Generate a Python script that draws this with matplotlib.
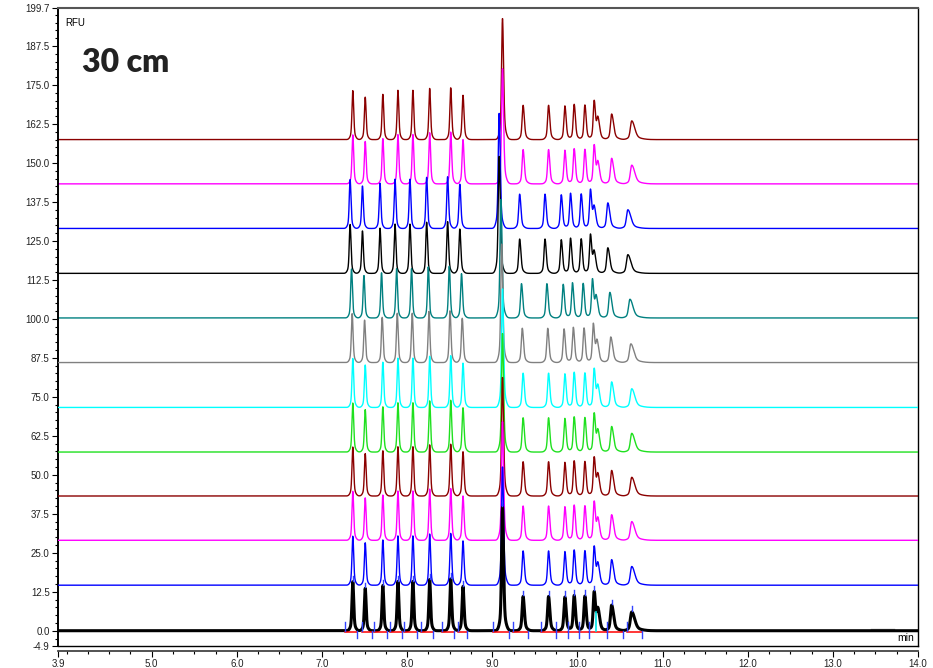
import numpy as np
import matplotlib.pyplot as plt
from matplotlib.patches import Arc

plt.rcParams['font.family'] = ['Liberation Sans', 'DejaVu Sans']

# Peak table shared by all injections (retention time in min, height in RFU)
peak_times = [7.362, 7.508, 7.715, 7.892, 8.068, 8.265, 8.512, 8.656, 9.120,
              9.362, 9.661, 9.853, 9.962, 10.088, 10.197, 10.240, 10.402, 10.638]
peak_heights = [15.7, 13.6, 14.5, 15.8, 15.8, 16.4, 16.6, 14.2, 38.5,
                11.0, 11.0, 10.8, 11.3, 11.1, 12.2, 6.5, 8.2, 6.0]
peak_sigma = [0.0090, 0.0090, 0.0090, 0.0090, 0.0090, 0.0090, 0.0090, 0.0095, 0.0100,
              0.0105, 0.0105, 0.0105, 0.0105, 0.0105, 0.0105, 0.0120, 0.0125, 0.0150]
peak_tail = [1.1, 1.1, 1.1, 1.1, 1.1, 1.1, 1.2, 1.2, 1.2,
             1.3, 1.3, 1.3, 1.3, 1.3, 1.3, 1.6, 1.7, 2.2]

# One trace per injection, bottom to top
offsets = [0.0, 14.6, 29.0, 43.2, 57.3, 71.6, 86.0, 100.3, 114.6, 129.0, 143.3, 157.5]
colors = ['black', '#0000ff', '#ff00ff', '#8b0000', '#1fe01f', '#00ffff',
          '#808080', '#008080', 'black', '#0000ff', '#ff00ff', '#8b0000']
time_scale = [1.0, 1.0, 1.0, 1.0, 1.0, 1.0, 0.999, 0.998, 0.9957, 0.9957, 1.0, 1.0]
main_peak = [39.6, 37.9, 38.0, 38.0, 38.0, 38.0, 38.0, 38.0, 37.5, 36.9, 36.9, 38.8]

# Integration events on the bottom trace
start_marks = [7.267, 7.467, 7.612, 7.796, 7.968, 8.161, 8.415, 8.596, 9.004,
               9.247, 9.573, 9.749, 9.886, 10.015, 10.141, 10.349, 10.580]
end_marks = [7.415, 7.585, 7.761, 7.945, 8.121, 8.309, 8.553, 8.702, 9.200,
             9.415, 9.749, 9.886, 10.015, 10.141, 10.349, 10.541, 10.761]
split_time = 10.224

t = np.arange(3.9, 14.0, 0.001)


def peak_shape(x, t0, h, s, tail):
    z = x - t0
    sig = np.where(z < 0, s, s * tail)
    core = np.exp(-0.5 * (z / sig) ** 2)
    foot = np.exp(-0.5 * (z / (2.6 * sig)) ** 2)
    return h * (0.84 * core + 0.16 * foot)


def trace(k):
    y = np.zeros_like(t)
    for i, t0 in enumerate(peak_times):
        h = main_peak[k] if i == 8 else peak_heights[i]
        y += peak_shape(t, t0 * time_scale[k], h, peak_sigma[i], peak_tail[i])
    return y


fig = plt.figure(figsize=(9.33, 6.68), dpi=100)
ax = fig.add_axes([58 / 933, 22 / 668, 860 / 933, 638 / 668])

for k in range(len(offsets) - 1, -1, -1):
    y = trace(k)
    lw = 2.2 if k == 0 else 1.0
    ax.plot(t, y + offsets[k], color=colors[k], lw=lw, zorder=2 + (12 - k) * 0.1)
    if k == 0:
        bottom = y

# baseline segments and event marks on the bottom trace
for s0, e0 in zip(start_marks, end_marks):
    ax.plot([s0, e0], [-0.35, -0.35], color='red', lw=1.1, zorder=3.5)
for s0 in start_marks:
    ax.plot([s0, s0], [0, 2.8], color='#3344ff', lw=1.0, zorder=4)
for e0 in end_marks:
    ax.plot([e0, e0], [0, -2.4], color='#3344ff', lw=1.0, zorder=4)
for i, t0 in enumerate(peak_times):
    if i == 15:
        continue
    top = np.interp(t0, t, bottom)
    ax.plot([t0, t0], [top + 0.3, top + 1.8], color='#3344ff', lw=1.0, zorder=4)
ax.plot([split_time, split_time], [0, np.interp(split_time, t, bottom)],
        color='#00e5e5', lw=1.2, zorder=4.5)
ax.plot([13.45, 13.72], [0.5, 0.5], color='#999999', lw=1.0, zorder=1)

ax.set_xlim(3.9, 14.0)
ax.set_ylim(-4.9, 199.7)

yt = [-4.9] + list(np.arange(0, 188, 12.5)) + [199.7]
ax.set_yticks(yt)
ax.set_yticklabels(['%.1f' % v for v in yt])
ax.set_yticks(np.arange(-2.5, 199.7, 2.5), minor=True)
xt = [3.9] + list(np.arange(5.0, 14.01, 1.0))
ax.set_xticks(xt)
ax.set_xticklabels(['%.1f' % v for v in xt])
ax.set_xticks(np.arange(4.0, 14.0, 0.25), minor=True)
ax.tick_params(which='major', direction='out', length=4, width=0.8, labelsize=7,
               labelcolor='#222222', pad=2)
ax.tick_params(which='minor', direction='out', length=2.5, width=0.8)

ax.spines['left'].set_linewidth(1.4)
ax.spines['right'].set_linewidth(1.0)
ax.spines['top'].set_color('#555555')
ax.spines['top'].set_linewidth(1.5)
ax.spines['bottom'].set_position(('outward', 3.6))
ax.spines['bottom'].set_color('#444444')
ax.spines['bottom'].set_linewidth(1.3)
# closing line of the frame above the time axis
ax.plot([0, 1], [0, 0], transform=ax.transAxes, color='black', lw=1.0, clip_on=False)

ax.text(0.008, 0.985, 'RFU', transform=ax.transAxes, fontsize=7, va='top', ha='left')
ax.text(0.995, 0.005, 'min', transform=ax.transAxes, fontsize=7.5, va='bottom', ha='right')
ax.text(0.028, 0.915, '30 cm', transform=ax.transAxes, fontsize=23, fontweight='heavy',
        family=['Lato', 'DejaVu Sans'], color='#222222', va='center', ha='left')

# red swoosh at the bottom edge
over = fig.add_axes([0, 0, 1, 1], facecolor='none')
over.set_xlim(0, 933)
over.set_ylim(668, 0)
over.axis('off')
over.add_patch(Arc((556, 684), 64, 44, theta1=40, theta2=140, color='red', lw=2.5))

fig.savefig('out.png', dpi=100)
